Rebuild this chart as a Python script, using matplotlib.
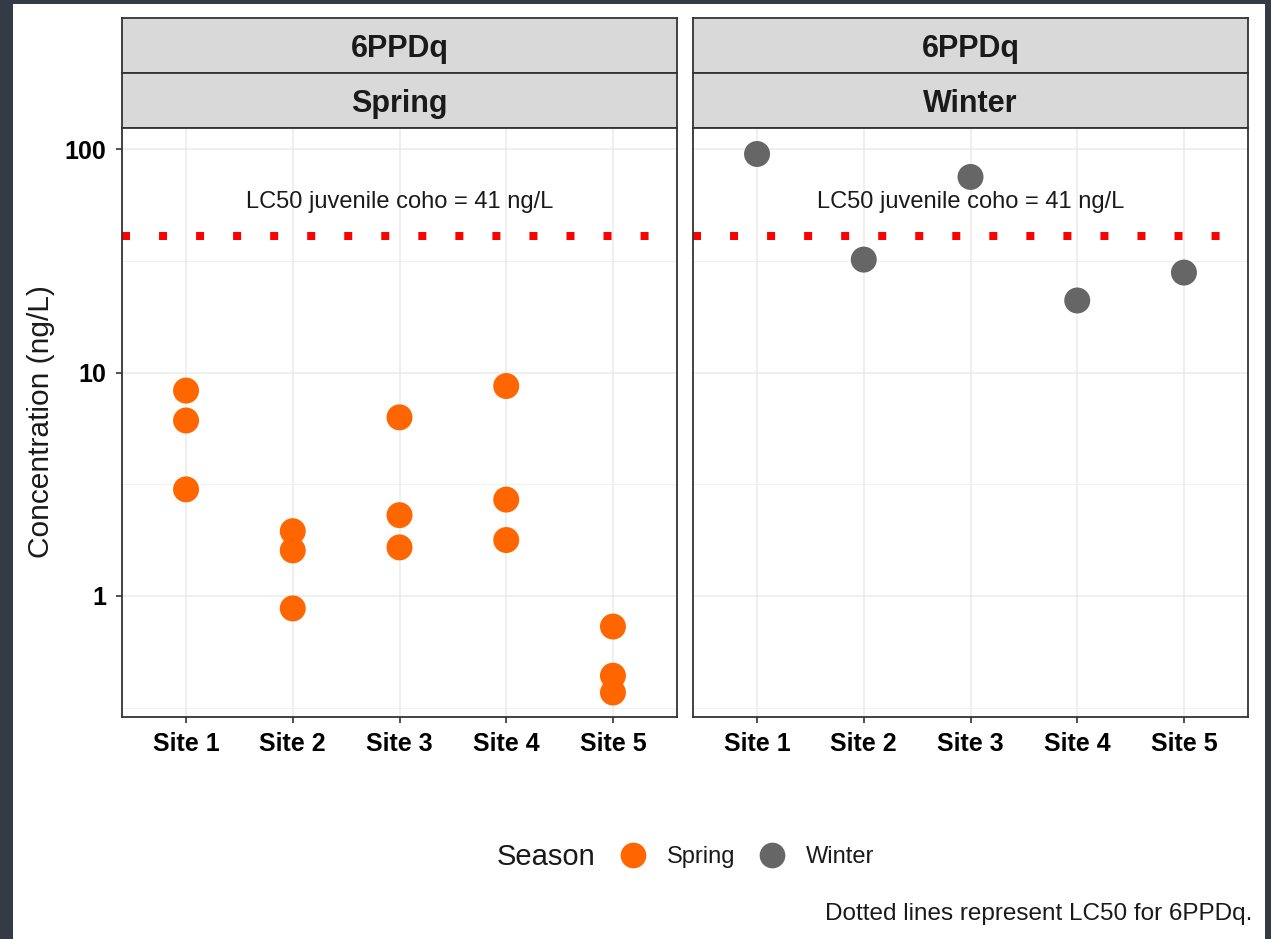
import matplotlib
matplotlib.use("Agg")
import matplotlib.pyplot as plt
from matplotlib.patches import Rectangle
from matplotlib.lines import Line2D
import numpy as np

plt.rcParams['font.family'] = ['Liberation Sans', 'DejaVu Sans']

# ---------------- data ----------------
sites = ["Site 1", "Site 2", "Site 3", "Site 4", "Site 5"]
spring_site = ["Site 1", "Site 1", "Site 1",
               "Site 2", "Site 2", "Site 2",
               "Site 3", "Site 3", "Site 3",
               "Site 4", "Site 4", "Site 4",
               "Site 5", "Site 5", "Site 5"]
spring_conc = [8.3, 6.1, 3.0,
               1.95, 1.6, 0.88,
               6.3, 2.3, 1.65,
               8.7, 2.7, 1.78,
               0.73, 0.44, 0.37]
winter_site = ["Site 1", "Site 2", "Site 3", "Site 4", "Site 5"]
winter_conc = [95, 32, 75, 21, 28]
panel_titles = ["Spring", "Winter"]
compound = "6PPDq"
lc50 = 41
lc50_label = "LC50 juvenile coho = 41 ng/L"
lc50_label_y = 58
y_ticks = [1, 10, 100]
y_tick_labels = ["1", "10", "100"]
y_minor = [10 ** -0.5, 10 ** 0.5, 10 ** 1.5]
season_colors = {"Spring": "#FF6600", "Winter": "#666666"}

W, H = 1271, 939
fig = plt.figure(figsize=(W / 100, H / 100), dpi=100)
fig.patch.set_facecolor("#343b47")
fig.add_artist(Rectangle((13 / W, 0), (1265 - 13) / W, (H - 4) / H,
                         transform=fig.transFigure, facecolor="white",
                         edgecolor="none", zorder=0))

def fx(px):
    return px / W

def fy(py):
    return 1 - py / H

panels = [(122, 677), (693, 1248)]
top, bottom = 128, 717
strip1_top, strip_mid = 18, 73

data = {"Spring": (spring_site, spring_conc), "Winter": (winter_site, winter_conc)}
site_idx = {s: i + 1 for i, s in enumerate(sites)}
dark = "#333333"

for k, (x0, x1) in enumerate(panels):
    season = panel_titles[k]
    ax = fig.add_axes([fx(x0), fy(bottom), fx(x1 - x0), (bottom - top) / H])
    ax.set_zorder(2)
    ax.set_facecolor("white")
    ax.set_yscale("log")
    ax.set_xlim(0.4, 5.6)
    ax.set_ylim(10 ** -0.5414, 10 ** 2.094)
    # grid
    for yv in y_ticks:
        ax.axhline(yv, color="#ebebeb", lw=1.1, zorder=0)
    for yv in y_minor:
        ax.axhline(yv, color="#f0f0f0", lw=0.8, zorder=0)
    for i in range(len(sites)):
        ax.axvline(i + 1, color="#ebebeb", lw=1.1, zorder=0)
    # lc50 line
    ax.axhline(lc50, color="#FF0000", lw=5.76, linestyle=(0, (1, 3.63)),
               dash_capstyle="butt", zorder=1)
    ax.text(3, lc50_label_y, lc50_label, ha="center", va="center",
            fontsize=17, color="#1a1a1a", zorder=3)
    s_list, c_list = data[season]
    xs = [site_idx[s] for s in s_list]
    ax.scatter(xs, c_list, s=350, color=season_colors[season],
               edgecolors="none", zorder=4)
    ax.set_xticks(range(1, len(sites) + 1))
    ax.set_xticklabels(sites, fontsize=18, fontweight="bold")
    ax.yaxis.set_minor_locator(matplotlib.ticker.NullLocator())
    ax.set_yticks(y_ticks)
    if k == 0:
        ax.set_yticklabels(y_tick_labels, fontsize=18, fontweight="bold")
    else:
        ax.tick_params(axis="y", left=False, labelleft=False)
    ax.tick_params(axis="both", length=4.3, width=1.2, color=dark,
                   labelcolor="black")
    ax.tick_params(axis="x", pad=6.5)
    ax.tick_params(axis="y", pad=7)
    for sp in ax.spines.values():
        sp.set_color(dark)
        sp.set_linewidth(1.3)

    # strips
    for (st, sb, label) in [(strip1_top, strip_mid, compound), (strip_mid, top, season)]:
        sax = fig.add_axes([fx(x0), fy(sb), fx(x1 - x0), (sb - st) / H])
        sax.set_facecolor("#d9d9d9")
        sax.set_xticks([])
        sax.set_yticks([])
        for sp in sax.spines.values():
            sp.set_color(dark)
            sp.set_linewidth(1.3)
        sax.text(0.5, 0.43, label, ha="center", va="center", fontsize=22,
                 fontweight="bold", color="#1a1a1a", transform=sax.transAxes)

# y label
fig.text(fx(41), fy(422), "Concentration (ng/L)", rotation=90, ha="center",
         va="center", fontsize=21.5, color="#1a1a1a")

# legend
fig.text(fx(497), fy(857), "Season", ha="left", va="center", fontsize=21,
         color="#1a1a1a")
handles = [Line2D([], [], linestyle="none", marker="o", markersize=18.5,
                  markerfacecolor=season_colors[s], markeredgecolor="none")
           for s in panel_titles]
leg = fig.legend(handles, panel_titles, loc="center left",
                 bbox_to_anchor=(fx(621), fy(857)), ncol=2, frameon=False,
                 fontsize=17, handlelength=1.0, handletextpad=0.95,
                 columnspacing=1.05, borderpad=0, borderaxespad=0)
for t in leg.get_texts():
    t.set_color("#1a1a1a")

# caption
fig.text(fx(1252), fy(914), "Dotted lines represent LC50 for 6PPDq.",
         ha="right", va="center", fontsize=17.5, color="#1a1a1a")

fig.savefig("out.png", dpi=100, facecolor=fig.get_facecolor())
